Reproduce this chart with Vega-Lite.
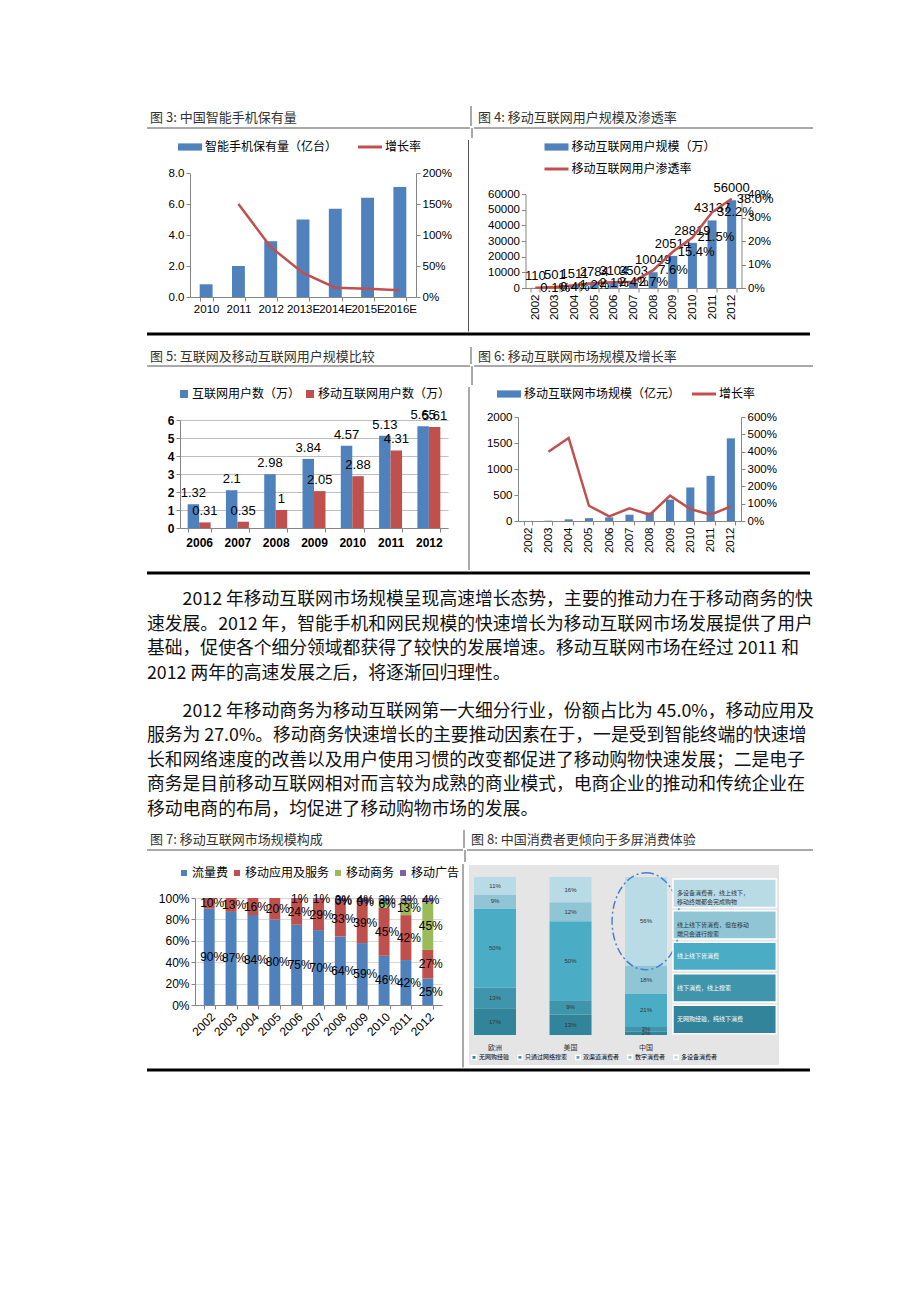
{
"$schema":"https://vega.github.io/schema/vega-lite/v6.json",
"background":"#ffffff",
"padding":{"left":145,"top":105,"right":112,"bottom":230},
"spacing":0,
"resolve":{"scale":{"color":"independent"},"legend":{"color":"independent"}},
"config":{
 "view":{"stroke":null},
 "font":"Liberation Sans, Noto Sans CJK SC",
 "axis":{"domainColor":"#868686","tickColor":"#868686","labelColor":"#000000","labelFontSize":11.5,"grid":false,"tickSize":4,"labelPadding":2,"labelOverlap":false,"labelFont":"Liberation Sans, Noto Sans CJK SC"},
 "legend":{"labelFont":"Noto Sans CJK SC","labelColor":"#000000","layout":{"top":{"anchor":"middle"}}},
 "text":{"font":"Liberation Sans, Noto Sans CJK SC"}
},
"vconcat":[
 {"hconcat":[
  {"width":323,"height":20,"data":{"values":[{"t":"图 3: 中国智能手机保有量"}]},"mark":{"type":"text","align":"left","baseline":"middle","font":"Noto Sans CJK SC","fontSize":13,"color":"#333333","dx":3,"dy":2},"encoding":{"text":{"field":"t","type":"nominal"},"x":{"datum":0,"type":"quantitative","scale":{"domain":[0,1]},"axis":null}}},
  {"width":1,"height":20,"data":{"values":[{}]},"mark":{"type":"rule","color":"#555555","strokeWidth":1},"encoding":{"x":{"datum":0,"type":"quantitative","scale":{"domain":[0,1]},"axis":null}}},
  {"width":339,"height":20,"data":{"values":[{"t":"图 4: 移动互联网用户规模及渗透率"}]},"mark":{"type":"text","align":"left","baseline":"middle","font":"Noto Sans CJK SC","fontSize":13,"color":"#333333","dx":6,"dy":2},"encoding":{"text":{"field":"t","type":"nominal"},"x":{"datum":0,"type":"quantitative","scale":{"domain":[0,1]},"axis":null}}}
 ],"spacing":0},
 {"hconcat":[
  {"width":323,"height":10,"data":{"values":[{}]},"mark":{"type":"rule","color":"#555555","strokeWidth":1},"encoding":{"y":{"datum":1,"type":"quantitative","scale":{"domain":[0,1]},"axis":null}}},
  {"width":1,"height":10,"data":{"values":[{}]},"mark":{"type":"rule","color":"#555555","strokeWidth":1},"encoding":{"x":{"datum":0,"type":"quantitative","scale":{"domain":[0,1]},"axis":null}}},
  {"width":339,"height":10,"data":{"values":[{}]},"mark":{"type":"rule","color":"#555555","strokeWidth":1},"encoding":{"y":{"datum":1,"type":"quantitative","scale":{"domain":[0,1]},"axis":null}}}
 ],"spacing":0},
 {"hconcat":[
  {"hconcat":[
   {"width":1,"height":1,"data":{"values":[{}]},"mark":{"type":"rule","opacity":0},"encoding":{"x":{"datum":0,"type":"quantitative","scale":{"domain":[0,1]},"axis":null}}},
   {"vconcat":[
    {"width":1,"height":1,"data":{"values":[{}]},"mark":{"type":"rule","opacity":0},"encoding":{"x":{"datum":0,"type":"quantitative","scale":{"domain":[0,1]},"axis":null}}},
    {"width":226,"height":124,
     "data":{"values":[
      {"year":"2010","stock":0.82,"growth":null},
      {"year":"2011","stock":2.0,"growth":1.5},
      {"year":"2012","stock":3.6,"growth":0.806},
      {"year":"2013E","stock":5.0,"growth":0.387},
      {"year":"2014E","stock":5.7,"growth":0.15},
      {"year":"2015E","stock":6.4,"growth":0.134},
      {"year":"2016E","stock":7.1,"growth":0.108}]},
     "encoding":{"x":{"field":"year","type":"ordinal","title":null,"scale":{"paddingInner":0.6,"paddingOuter":0.3},"axis":{"labelAngle":0,"tickBand":"extent"}}},
     "layer":[
      {"mark":{"type":"bar"},
       "encoding":{
        "y":{"field":"stock","type":"quantitative","title":null,"scale":{"domain":[0,8]},"axis":{"values":[0,2,4,6,8],"format":".1f"}},
        "color":{"datum":"智能手机保有量（亿台）","type":"nominal","scale":{"domain":["智能手机保有量（亿台）","增长率"],"range":["#4f81bd","#c0504d"]},
         "legend":{"orient":"top","direction":"horizontal","title":null,"labelFontSize":12,"symbolSize":144,"labelOffset":9,"columnPadding":14,"offset":20.5,"padding":0,
          "encode":{"symbols":{"update":{"shape":{"signal":"datum.value === '增长率' ? 'M-2,0H2' : 'M-2,-0.6H2V0.6H-2Z'"},"strokeWidth":{"signal":"datum.value === '增长率' ? 3 : 0"},"stroke":{"value":"#c0504d"},"fill":{"signal":"datum.value === '增长率' ? 'transparent' : '#4f81bd'"}}}}}}}},
      {"transform":[{"filter":"datum.growth != null"}],
       "mark":{"type":"line","strokeWidth":2.5},
       "encoding":{
        "y":{"field":"growth","type":"quantitative","title":null,"scale":{"domain":[0,2]},"axis":{"orient":"right","values":[0,0.5,1,1.5,2],"format":".0%"}},
        "color":{"datum":"增长率","type":"nominal"}}}],
     "resolve":{"scale":{"y":"independent"}}}
   ],"spacing":0,"resolve":{"scale":{"color":"independent"},"legend":{"color":"independent"}}}
  ],"spacing":20,"resolve":{"scale":{"color":"independent"},"legend":{"color":"independent"}}},
  {"hconcat":[
   {"width":1,"height":191.5,"data":{"values":[{}]},"mark":{"type":"rule","color":"#555555","strokeWidth":1},"encoding":{"x":{"datum":0,"type":"quantitative","scale":{"domain":[0,1]},"axis":null}}},
   {"vconcat":[
    {"width":1,"height":1,"data":{"values":[{}]},"mark":{"type":"rule","opacity":0},"encoding":{"x":{"datum":0,"type":"quantitative","scale":{"domain":[0,1]},"axis":null}}},
    {"width":216,"height":94,
     "data":{"values":[
      {"year":"2002","users":110,"rate":0.001},
      {"year":"2003","users":501,"rate":0.004},
      {"year":"2004","users":1511,"rate":0.012},
      {"year":"2005","users":2784,"rate":0.021},
      {"year":"2006","users":3104,"rate":0.024},
      {"year":"2007","users":3503,"rate":0.027},
      {"year":"2008","users":10049,"rate":0.076},
      {"year":"2009","users":20514,"rate":0.154},
      {"year":"2010","users":28819,"rate":0.215},
      {"year":"2011","users":43137,"rate":0.322},
      {"year":"2012","users":56000,"rate":0.38}]},
     "encoding":{"x":{"field":"year","type":"ordinal","title":null,"scale":{"paddingInner":0.54,"paddingOuter":0.27},"axis":{"labelAngle":-90,"tickBand":"extent"}}},
     "layer":[
      {"encoding":{"y":{"field":"users","type":"quantitative","title":null,"scale":{"domain":[0,60000]},"axis":{"values":[0,10000,20000,30000,40000,50000,60000],"format":"d"}}},
       "layer":[
        {"mark":{"type":"bar"},"encoding":{"color":{"datum":"移动互联网用户规模（万）","type":"nominal","scale":{"domain":["移动互联网用户规模（万）","移动互联网用户渗透率"],"range":["#4f81bd","#c0504d"]},
          "legend":{"orient":"top","direction":"vertical","title":null,"labelFontSize":12,"symbolSize":144,"labelOffset":9,"rowPadding":10,"offset":19.5,"padding":0,
           "encode":{"symbols":{"update":{"shape":{"signal":"datum.value === '移动互联网用户渗透率' ? 'M-2,0H2' : 'M-2,-0.6H2V0.6H-2Z'"},"strokeWidth":{"signal":"datum.value === '移动互联网用户渗透率' ? 3 : 0"},"stroke":{"value":"#c0504d"},"fill":{"signal":"datum.value === '移动互联网用户渗透率' ? 'transparent' : '#4f81bd'"}}}}}}}},
        {"mark":{"type":"text","baseline":"bottom","dy":-5,"fontSize":13,"color":"#000000"},"encoding":{"text":{"field":"users","type":"quantitative","format":"d"}}}]},
      {"encoding":{"y":{"field":"rate","type":"quantitative","title":null,"scale":{"domain":[0,0.4]},"axis":{"orient":"right","values":[0,0.1,0.2,0.3,0.4],"format":".0%"}}},
       "layer":[
        {"mark":{"type":"line","strokeWidth":2.5},"encoding":{"color":{"datum":"移动互联网用户渗透率","type":"nominal"}}},
        {"mark":{"type":"text","align":"left","baseline":"middle","dx":5,"fontSize":13,"color":"#000000"},"encoding":{"text":{"field":"rate","type":"quantitative","format":".1%"}}}]}],
     "resolve":{"scale":{"y":"independent"}}}
   ],"spacing":0,"resolve":{"scale":{"color":"independent"},"legend":{"color":"independent"}}}
  ],"spacing":18,"resolve":{"scale":{"color":"independent"},"legend":{"color":"independent"}}}
 ],"spacing":15.5,"resolve":{"scale":{"color":"independent"},"legend":{"color":"independent"}}},
 {"width":663,"height":12,"data":{"values":[{}]},"mark":{"type":"rule","color":"#000000","strokeWidth":3},"encoding":{"y":{"datum":1,"type":"quantitative","scale":{"domain":[0,1]},"axis":null}}},
 {"hconcat":[
  {"width":323,"height":17,"data":{"values":[{"t":"图 5: 互联网及移动互联网用户规模比较"}]},"mark":{"type":"text","align":"left","baseline":"middle","font":"Noto Sans CJK SC","fontSize":13,"color":"#333333","dx":3,"dy":1},"encoding":{"text":{"field":"t","type":"nominal"},"x":{"datum":0,"type":"quantitative","scale":{"domain":[0,1]},"axis":null}}},
  {"width":1,"height":17,"data":{"values":[{}]},"mark":{"type":"rule","color":"#555555","strokeWidth":1},"encoding":{"x":{"datum":0,"type":"quantitative","scale":{"domain":[0,1]},"axis":null}}},
  {"width":339,"height":17,"data":{"values":[{"t":"图 6: 移动互联网市场规模及增长率"}]},"mark":{"type":"text","align":"left","baseline":"middle","font":"Noto Sans CJK SC","fontSize":13,"color":"#333333","dx":6,"dy":1},"encoding":{"text":{"field":"t","type":"nominal"},"x":{"datum":0,"type":"quantitative","scale":{"domain":[0,1]},"axis":null}}}
 ],"spacing":0},
 {"hconcat":[
  {"width":323,"height":19,"data":{"values":[{}]},"mark":{"type":"rule","color":"#555555","strokeWidth":1},"encoding":{"y":{"datum":1,"type":"quantitative","scale":{"domain":[0,1]},"axis":null}}},
  {"width":1,"height":19,"data":{"values":[{}]},"mark":{"type":"rule","color":"#555555","strokeWidth":1},"encoding":{"x":{"datum":0,"type":"quantitative","scale":{"domain":[0,1]},"axis":null}}},
  {"width":339,"height":19,"data":{"values":[{}]},"mark":{"type":"rule","color":"#555555","strokeWidth":1},"encoding":{"y":{"datum":1,"type":"quantitative","scale":{"domain":[0,1]},"axis":null}}}
 ],"spacing":0},
 {"hconcat":[
  {"hconcat":[
   {"width":1,"height":1,"data":{"values":[{}]},"mark":{"type":"rule","opacity":0},"encoding":{"x":{"datum":0,"type":"quantitative","scale":{"domain":[0,1]},"axis":null}}},
   {"vconcat":[
    {"width":1,"height":1,"data":{"values":[{}]},"mark":{"type":"rule","opacity":0},"encoding":{"x":{"datum":0,"type":"quantitative","scale":{"domain":[0,1]},"axis":null}}},
    {"width":268,"height":108,
     "data":{"values":[
      {"year":"2006","s":"互联网用户数（万）","v":1.32},{"year":"2006","s":"移动互联网用户数（万）","v":0.31},
      {"year":"2007","s":"互联网用户数（万）","v":2.1},{"year":"2007","s":"移动互联网用户数（万）","v":0.35},
      {"year":"2008","s":"互联网用户数（万）","v":2.98},{"year":"2008","s":"移动互联网用户数（万）","v":1},
      {"year":"2009","s":"互联网用户数（万）","v":3.84},{"year":"2009","s":"移动互联网用户数（万）","v":2.05},
      {"year":"2010","s":"互联网用户数（万）","v":4.57},{"year":"2010","s":"移动互联网用户数（万）","v":2.88},
      {"year":"2011","s":"互联网用户数（万）","v":5.13},{"year":"2011","s":"移动互联网用户数（万）","v":4.31},
      {"year":"2012","s":"互联网用户数（万）","v":5.65},{"year":"2012","s":"移动互联网用户数（万）","v":5.61}]},
     "encoding":{
      "x":{"field":"year","type":"ordinal","title":null,"scale":{"paddingInner":0.4,"paddingOuter":0.2},"axis":{"labelAngle":0,"tickBand":"extent","labelFontWeight":"bold","labelFontSize":12,"labelPadding":5}},
      "xOffset":{"field":"s","type":"nominal","sort":["互联网用户数（万）","移动互联网用户数（万）"]},
      "y":{"field":"v","type":"quantitative","title":null,"scale":{"domain":[0,6]},"axis":{"values":[0,1,2,3,4,5,6],"format":"d","grid":true,"gridColor":"#bfbfbf","labelFontWeight":"bold","labelFontSize":12}}},
     "layer":[
      {"mark":{"type":"bar"},"encoding":{"color":{"field":"s","type":"nominal","scale":{"domain":["互联网用户数（万）","移动互联网用户数（万）"],"range":["#4f81bd","#c0504d"]},
        "legend":{"orient":"top","direction":"horizontal","title":null,"symbolType":"square","symbolSize":64,"labelFontSize":12,"labelOffset":2,"columnPadding":3,"offset":20,"padding":0}}}},
      {"mark":{"type":"text","baseline":"bottom","dy":-4,"fontSize":13,"color":"#000000"},"encoding":{"text":{"field":"v","type":"quantitative"}}}]}
   ],"spacing":0,"resolve":{"scale":{"color":"independent"},"legend":{"color":"independent"}}}
  ],"spacing":19,"resolve":{"scale":{"color":"independent"},"legend":{"color":"independent"}}},
  {"hconcat":[
   {"width":1,"height":183,"data":{"values":[{}]},"mark":{"type":"rule","color":"#555555","strokeWidth":1},"encoding":{"x":{"datum":0,"type":"quantitative","scale":{"domain":[0,1]},"axis":null}}},
   {"vconcat":[
    {"width":1,"height":1,"data":{"values":[{}]},"mark":{"type":"rule","opacity":0},"encoding":{"x":{"datum":0,"type":"quantitative","scale":{"domain":[0,1]},"axis":null}}},
    {"width":223,"height":104,
     "data":{"values":[
      {"year":"2002","size":1.2,"rate":null},
      {"year":"2003","size":5.5,"rate":4.0},
      {"year":"2004","size":32,"rate":4.79},
      {"year":"2005","size":55,"rate":0.88},
      {"year":"2006","size":70,"rate":0.27},
      {"year":"2007","size":121,"rate":0.73},
      {"year":"2008","size":165,"rate":0.36},
      {"year":"2009","size":410,"rate":1.46},
      {"year":"2010","size":645,"rate":0.69},
      {"year":"2011","size":869,"rate":0.36},
      {"year":"2012","size":1590,"rate":0.84}]},
     "encoding":{"x":{"field":"year","type":"ordinal","title":null,"scale":{"paddingInner":0.6,"paddingOuter":0.3},"axis":{"labelAngle":-90,"tickBand":"extent"}}},
     "layer":[
      {"mark":{"type":"bar"},
       "encoding":{
        "y":{"field":"size","type":"quantitative","title":null,"scale":{"domain":[0,2000]},"axis":{"values":[0,500,1000,1500,2000],"format":"d"}},
        "color":{"datum":"移动互联网市场规模（亿元）","type":"nominal","scale":{"domain":["移动互联网市场规模（亿元）","增长率"],"range":["#4f81bd","#c0504d"]},
         "legend":{"orient":"top","direction":"horizontal","title":null,"labelFontSize":12,"symbolSize":144,"labelOffset":9,"columnPadding":5,"offset":17,"padding":0,
          "encode":{"symbols":{"update":{"shape":{"signal":"datum.value === '增长率' ? 'M-2,0H2' : 'M-2,-0.6H2V0.6H-2Z'"},"strokeWidth":{"signal":"datum.value === '增长率' ? 3 : 0"},"stroke":{"value":"#c0504d"},"fill":{"signal":"datum.value === '增长率' ? 'transparent' : '#4f81bd'"}}}}}}}},
      {"transform":[{"filter":"datum.rate != null"}],
       "mark":{"type":"line","strokeWidth":2.5},
       "encoding":{
        "y":{"field":"rate","type":"quantitative","title":null,"scale":{"domain":[0,6]},"axis":{"orient":"right","values":[0,1,2,3,4,5,6],"format":".0%"}},
        "color":{"datum":"增长率","type":"nominal"}}}],
     "resolve":{"scale":{"y":"independent"}}}
   ],"spacing":0,"resolve":{"scale":{"color":"independent"},"legend":{"color":"independent"}}}
  ],"spacing":16,"resolve":{"scale":{"color":"independent"},"legend":{"color":"independent"}}}
 ],"spacing":17,"resolve":{"scale":{"color":"independent"},"legend":{"color":"independent"}}},
 {"width":663,"height":2,"data":{"values":[{}]},"mark":{"type":"rule","color":"#000000","strokeWidth":3},"encoding":{"y":{"datum":1,"type":"quantitative","scale":{"domain":[0,1]},"axis":null}}},
 {"width":663,"height":112,
  "data":{"values":[{"t":"\u200b　　2012 年移动互联网市场规模呈现高速增长态势，主要的推动力在于移动商务的快\n速发展。2012 年，智能手机和网民规模的快速增长为移动互联网市场发展提供了用户\n基础，促使各个细分领域都获得了较快的发展增速。移动互联网市场在经过 2011 和\n2012 两年的高速发展之后，将逐渐回归理性。"}]},
  "mark":{"type":"text","align":"left","baseline":"top","font":"Noto Sans CJK SC","fontSize":17.8,"lineHeight":24.5,"lineBreak":"\n","color":"#111111","dy":16},
  "encoding":{"text":{"field":"t","type":"nominal"},"x":{"datum":0,"type":"quantitative","scale":{"domain":[0,1]},"axis":null},"y":{"datum":1,"type":"quantitative","scale":{"domain":[0,1]},"axis":null}}},
 {"width":663,"height":141.5,
  "data":{"values":[{"t":"\u200b　　2012 年移动商务为移动互联网第一大细分行业，份额占比为 45.0%，移动应用及\n服务为 27.0%。移动商务快速增长的主要推动因素在于，一是受到智能终端的快速增\n长和网络速度的改善以及用户使用习惯的改变都促进了移动购物快速发展；二是电子\n商务是目前移动互联网相对而言较为成熟的商业模式，电商企业的推动和传统企业在\n移动电商的布局，均促进了移动购物市场的发展。"}]},
  "mark":{"type":"text","align":"left","baseline":"top","font":"Noto Sans CJK SC","fontSize":17.8,"lineHeight":24.5,"lineBreak":"\n","color":"#111111","dy":15.5},
  "encoding":{"text":{"field":"t","type":"nominal"},"x":{"datum":0,"type":"quantitative","scale":{"domain":[0,1]},"axis":null},"y":{"datum":1,"type":"quantitative","scale":{"domain":[0,1]},"axis":null}}},
 {"hconcat":[
  {"width":316,"height":18,"data":{"values":[{"t":"图 7: 移动互联网市场规模构成"}]},"mark":{"type":"text","align":"left","baseline":"middle","font":"Noto Sans CJK SC","fontSize":13,"color":"#333333","dx":3,"dy":1},"encoding":{"text":{"field":"t","type":"nominal"},"x":{"datum":0,"type":"quantitative","scale":{"domain":[0,1]},"axis":null}}},
  {"width":1,"height":18,"data":{"values":[{}]},"mark":{"type":"rule","color":"#555555","strokeWidth":1},"encoding":{"x":{"datum":0,"type":"quantitative","scale":{"domain":[0,1]},"axis":null}}},
  {"width":346,"height":18,"data":{"values":[{"t":"图 8: 中国消费者更倾向于多屏消费体验"}]},"mark":{"type":"text","align":"left","baseline":"middle","font":"Noto Sans CJK SC","fontSize":13,"color":"#333333","dx":6,"dy":1},"encoding":{"text":{"field":"t","type":"nominal"},"x":{"datum":0,"type":"quantitative","scale":{"domain":[0,1]},"axis":null}}}
 ],"spacing":0},
 {"hconcat":[
  {"width":316,"height":12,"data":{"values":[{}]},"mark":{"type":"rule","color":"#555555","strokeWidth":1},"encoding":{"y":{"datum":1,"type":"quantitative","scale":{"domain":[0,1]},"axis":null}}},
  {"width":1,"height":12,"data":{"values":[{}]},"mark":{"type":"rule","color":"#555555","strokeWidth":1},"encoding":{"x":{"datum":0,"type":"quantitative","scale":{"domain":[0,1]},"axis":null}}},
  {"width":346,"height":12,"data":{"values":[{}]},"mark":{"type":"rule","color":"#555555","strokeWidth":1},"encoding":{"y":{"datum":1,"type":"quantitative","scale":{"domain":[0,1]},"axis":null}}}
 ],"spacing":0},
 {"hconcat":[
  {"hconcat":[
   {"width":1,"height":1,"data":{"values":[{}]},"mark":{"type":"rule","opacity":0},"encoding":{"x":{"datum":0,"type":"quantitative","scale":{"domain":[0,1]},"axis":null}}},
   {"vconcat":[
    {"width":1,"height":1,"data":{"values":[{}]},"mark":{"type":"rule","opacity":0},"encoding":{"x":{"datum":0,"type":"quantitative","scale":{"domain":[0,1]},"axis":null}}},
    {"width":247,"height":107,
     "data":{"values":[
      {"year":"2002","s":"流量费","k":0,"v":0.90},{"year":"2002","s":"移动应用及服务","k":1,"v":0.10},
      {"year":"2003","s":"流量费","k":0,"v":0.87},{"year":"2003","s":"移动应用及服务","k":1,"v":0.13},
      {"year":"2004","s":"流量费","k":0,"v":0.84},{"year":"2004","s":"移动应用及服务","k":1,"v":0.16},
      {"year":"2005","s":"流量费","k":0,"v":0.80},{"year":"2005","s":"移动应用及服务","k":1,"v":0.20},
      {"year":"2006","s":"流量费","k":0,"v":0.75},{"year":"2006","s":"移动应用及服务","k":1,"v":0.24},{"year":"2006","s":"移动广告","k":3,"v":0.01},
      {"year":"2007","s":"流量费","k":0,"v":0.70},{"year":"2007","s":"移动应用及服务","k":1,"v":0.29},{"year":"2007","s":"移动广告","k":3,"v":0.01},
      {"year":"2008","s":"流量费","k":0,"v":0.64},{"year":"2008","s":"移动应用及服务","k":1,"v":0.33},{"year":"2008","s":"移动商务","k":2,"v":0.0},{"year":"2008","s":"移动广告","k":3,"v":0.03},
      {"year":"2009","s":"流量费","k":0,"v":0.59},{"year":"2009","s":"移动应用及服务","k":1,"v":0.39},{"year":"2009","s":"移动商务","k":2,"v":0.0},{"year":"2009","s":"移动广告","k":3,"v":0.04},
      {"year":"2010","s":"流量费","k":0,"v":0.46},{"year":"2010","s":"移动应用及服务","k":1,"v":0.45},{"year":"2010","s":"移动商务","k":2,"v":0.06},{"year":"2010","s":"移动广告","k":3,"v":0.03},
      {"year":"2011","s":"流量费","k":0,"v":0.42},{"year":"2011","s":"移动应用及服务","k":1,"v":0.42},{"year":"2011","s":"移动商务","k":2,"v":0.13},{"year":"2011","s":"移动广告","k":3,"v":0.03},
      {"year":"2012","s":"流量费","k":0,"v":0.25},{"year":"2012","s":"移动应用及服务","k":1,"v":0.27},{"year":"2012","s":"移动商务","k":2,"v":0.45},{"year":"2012","s":"移动广告","k":3,"v":0.04}]},
     "transform":[{"stack":"v","groupby":["year"],"sort":[{"field":"k","order":"ascending"}],"offset":"normalize","as":["y0","y1"]},{"calculate":"(datum.y0+datum.y1)/2","as":"ym"}],
     "encoding":{"x":{"field":"year","type":"ordinal","title":null,"scale":{"paddingInner":0.5,"paddingOuter":0.4},"axis":{"labelAngle":-45,"tickBand":"extent","labelFontSize":12}}},
     "layer":[
      {"mark":{"type":"bar"},"encoding":{
        "y":{"field":"y0","type":"quantitative","title":null,"stack":null,"scale":{"domain":[0,1]},"axis":{"values":[0,0.2,0.4,0.6,0.8,1],"format":".0%","grid":true,"gridColor":"#d9d9d9","labelFontSize":12,"labelOverlap":false,"labelSeparation":0,"labelBound":false,"labelFlush":false}},
        "y2":{"field":"y1"},
        "color":{"field":"s","type":"nominal","scale":{"domain":["流量费","移动应用及服务","移动商务","移动广告"],"range":["#4f81bd","#c0504d","#9bbb59","#8064a2"]},
         "legend":{"orient":"top","direction":"horizontal","title":null,"symbolType":"square","symbolSize":36,"labelFontSize":12,"labelOffset":2,"columnPadding":2,"offset":17.5,"padding":2}}}},
      {"mark":{"type":"text","fontSize":12,"dx":3,"color":"#000000"},"encoding":{"y":{"field":"ym","type":"quantitative","axis":null},"text":{"field":"v","type":"quantitative","format":".0%"}}}],
     "resolve":{"axis":{"y":"independent"}}}
   ],"spacing":0,"resolve":{"scale":{"color":"independent"},"legend":{"color":"independent"}}}
  ],"spacing":10,"resolve":{"scale":{"color":"independent"},"legend":{"color":"independent"}}},
  {"hconcat":[
   {"width":1,"height":203.5,"data":{"values":[{}]},"mark":{"type":"rule","color":"#555555","strokeWidth":1},"encoding":{"x":{"datum":0,"type":"quantitative","scale":{"domain":[0,1]},"axis":null}}},
   {"vconcat":[
    {"width":1,"height":1,"data":{"values":[{}]},"mark":{"type":"rule","opacity":0},"encoding":{"x":{"datum":0,"type":"quantitative","scale":{"domain":[0,1]},"axis":null}}},
    {"width":310,"height":200,
     "view":{"fill":"#e5e5e5","stroke":null},
     "layer":[
      {"data":{"values":[
        {"region":"欧洲","s":"无网购经验","k":0,"v":0.17},{"region":"欧洲","s":"只通过网络搜索","k":1,"v":0.13},{"region":"欧洲","s":"双渠道消费者","k":2,"v":0.50},{"region":"欧洲","s":"数字消费者","k":3,"v":0.09},{"region":"欧洲","s":"多设备消费者","k":4,"v":0.11},
        {"region":"美国","s":"无网购经验","k":0,"v":0.13},{"region":"美国","s":"只通过网络搜索","k":1,"v":0.09},{"region":"美国","s":"双渠道消费者","k":2,"v":0.50},{"region":"美国","s":"数字消费者","k":3,"v":0.12},{"region":"美国","s":"多设备消费者","k":4,"v":0.16},
        {"region":"中国","s":"无网购经验","k":0,"v":0.02},{"region":"中国","s":"只通过网络搜索","k":1,"v":0.03},{"region":"中国","s":"双渠道消费者","k":2,"v":0.21},{"region":"中国","s":"数字消费者","k":3,"v":0.18},{"region":"中国","s":"多设备消费者","k":4,"v":0.56}]},
       "transform":[{"stack":"v","groupby":["region"],"sort":[{"field":"k","order":"ascending"}],"as":["y0","y1"]},{"calculate":"(datum.y0+datum.y1)/2","as":"ym"}],
       "encoding":{"x":{"field":"region","type":"nominal","title":null,"scale":{"domain":["欧洲","美国","中国"],"paddingInner":0.444,"paddingOuter":0.775,"align":0.043},"axis":{"orient":"bottom","offset":-24,"domain":false,"ticks":false,"labelAngle":0,"labelFontSize":7,"labelPadding":2,"labelFont":"Noto Sans CJK SC","labelColor":"#333333"}}},
       "layer":[
        {"mark":{"type":"bar"},"encoding":{
          "y":{"field":"y0","type":"quantitative","title":null,"scale":{"domain":[-0.19,1.076],"nice":false,"zero":false},"axis":null},
          "y2":{"field":"y1"},
          "color":{"field":"s","type":"nominal","scale":{"domain":["无网购经验","只通过网络搜索","双渠道消费者","数字消费者","多设备消费者"],"range":["#31849a","#3f96ac","#4bacc6","#8fc5d5","#b8dbe6"]},
           "legend":{"orient":"bottom-left","direction":"horizontal","title":null,"symbolType":"square","symbolSize":20,"labelFontSize":6,"labelOffset":2,"columnPadding":4,"offset":2,"padding":0}}}},
        {"mark":{"type":"text","fontSize":6,"color":"#333333"},"encoding":{"y":{"field":"ym","type":"quantitative"},"text":{"field":"v","type":"quantitative","format":".0%"}}},
        {"transform":[{"filter":"datum.region === '中国' && datum.k === 4"}],"mark":{"type":"point","shape":"M0,-1A0.7,1 0 1,1 0,1A0.7,1 0 1,1 0,-1Z","size":9409,"filled":false,"stroke":"#4a7fcf","strokeWidth":1.5,"strokeDash":[8,3,2,3],"opacity":1},"encoding":{"y":{"field":"ym","type":"quantitative"}}}]},
      {"data":{"values":[
        {"b":1,"col":"说明","s":"多设备消费者","t":"多设备消费者，线上线下，\n移动终端都会完成购物"},
        {"b":2,"col":"说明","s":"数字消费者","t":"线上线下皆消费，但在移动\n端只会进行搜索"},
        {"b":3,"col":"说明","s":"双渠道消费者","t":"线上线下皆消费"},
        {"b":4,"col":"说明","s":"只通过网络搜索","t":"线下消费，线上搜索"},
        {"b":5,"col":"说明","s":"无网购经验","t":"无网购经验，纯线下消费"}]},
       "encoding":{"x":{"field":"col","type":"nominal","title":null,"scale":{"domain":["说明"],"paddingInner":0,"paddingOuter":1.51,"align":0.987},"axis":null},"y":{"field":"b","type":"ordinal","title":null,"scale":{"paddingInner":0.1,"paddingOuter":0.72,"align":0.31},"axis":null}},
       "layer":[
        {"mark":{"type":"rect","stroke":"#ffffff","strokeWidth":1.5},"encoding":{"color":{"field":"s","type":"nominal"}}},
        {"mark":{"type":"text","align":"left","baseline":"middle","fontSize":6,"dx":4,"lineBreak":"\n","lineHeight":9,"font":"Noto Sans CJK SC"},"encoding":{"x":{"field":"col","type":"nominal","bandPosition":0},"text":{"field":"t"},"color":{"condition":{"test":"datum.b <= 2","value":"#333333"},"value":"#ffffff"}}}]}],
     "resolve":{"scale":{"x":"independent","y":"independent"}}}
   ],"spacing":0,"resolve":{"scale":{"color":"independent"},"legend":{"color":"independent"}}}
  ],"spacing":5,"resolve":{"scale":{"color":"independent"},"legend":{"color":"independent"}}}
 ],"spacing":0,"resolve":{"scale":{"color":"independent"},"legend":{"color":"independent"}}},
 {"width":663,"height":1,"data":{"values":[{}]},"mark":{"type":"rule","color":"#000000","strokeWidth":3},"encoding":{"y":{"datum":1,"type":"quantitative","scale":{"domain":[0,1]},"axis":null}}}
]
}
